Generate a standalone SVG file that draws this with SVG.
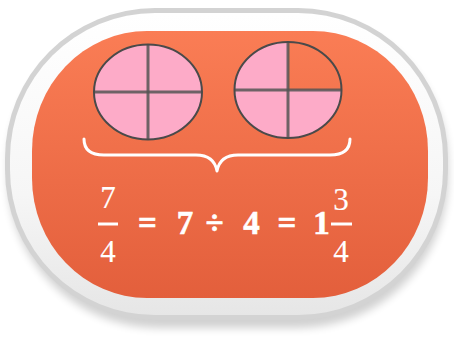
<svg xmlns="http://www.w3.org/2000/svg" width="454" height="342" viewBox="0 0 454 342">
<defs>
<linearGradient id="og" x1="0" y1="0" x2="0" y2="1">
<stop offset="0" stop-color="#FA7D55"/>
<stop offset="1" stop-color="#E35F3C"/>
</linearGradient>
<linearGradient id="wg" x1="0" y1="0" x2="0" y2="1">
<stop offset="0" stop-color="#FFFFFF"/>
<stop offset="0.6" stop-color="#F6F6F6"/>
<stop offset="1" stop-color="#E6E6E6"/>
</linearGradient>
<filter id="sh" x="-10%" y="-10%" width="120%" height="130%">
<feGaussianBlur stdDeviation="4"/>
</filter>
<style>
.pie{fill:#FDABC8}
.rim{fill:none;stroke:#4a4a4a;stroke-width:2}
.cross{stroke:#555;stroke-opacity:0.85;stroke-width:3}
.t{font-family:"Liberation Serif","DejaVu Serif",serif;fill:#fff;text-anchor:middle}
.b{font-weight:bold;font-size:33px;stroke:#fff;stroke-width:0.6}
.f{font-size:31px;stroke:#fff;stroke-width:0.15}
</style>
</defs>
<g id="frame">
<rect x="8" y="16" width="440" height="312" rx="150" ry="150" fill="#000" opacity="0.18" filter="url(#sh)"/>
<rect x="5" y="8" width="443" height="312" rx="150" ry="150" fill="#D3D3D3"/>
<rect x="10" y="13" width="433" height="302" rx="145" ry="145" fill="url(#wg)"/>
<rect x="32" y="31" width="396" height="267" rx="115" ry="120" fill="url(#og)"/>
</g>
<g id="circle-left">
<ellipse class="pie" cx="148" cy="92" rx="54" ry="47.5"/>
<line class="cross" x1="94" y1="92" x2="202" y2="92"/>
<line class="cross" x1="148" y1="44.5" x2="148" y2="139.5"/>
<ellipse class="rim" cx="148" cy="92" rx="54" ry="47.5"/>
</g>
<g id="circle-right">
<path class="pie" d="M288 90 L288 42 A53.5 48 0 0 0 234.5 90 A53.5 48 0 0 0 341.5 90 Z"/>
<line class="cross" x1="234.5" y1="90" x2="341.5" y2="90"/>
<line class="cross" x1="288" y1="42" x2="288" y2="138"/>
<ellipse class="rim" cx="288" cy="90" rx="53.5" ry="48"/>
</g>
<g id="brace">
<path d="M84 139 Q84 155 104 155 L196 155 Q214 155 217 171 Q220 155 238 155 L330 155 Q350 155 350 139" fill="none" stroke="#fff" stroke-width="3" stroke-linecap="round" stroke-linejoin="round"/>
</g>
<g id="equation">
<text class="t f" x="108" y="208">7</text>
<line x1="98" y1="224" x2="118" y2="224" stroke="#fff" stroke-width="3"/>
<text class="t f" x="108" y="262">4</text>
<text class="t b" x="147.5" y="234">=</text>
<text class="t b" x="185" y="234">7</text>
<text class="t b" x="214.5" y="234">÷</text>
<text class="t b" x="251.5" y="234">4</text>
<text class="t b" x="287" y="234">=</text>
<text class="t b" x="321.5" y="234">1</text>
<text class="t f" x="341" y="210">3</text>
<line x1="331" y1="224" x2="352" y2="224" stroke="#fff" stroke-width="3"/>
<text class="t f" x="341" y="262">4</text>
</g>
</svg>
